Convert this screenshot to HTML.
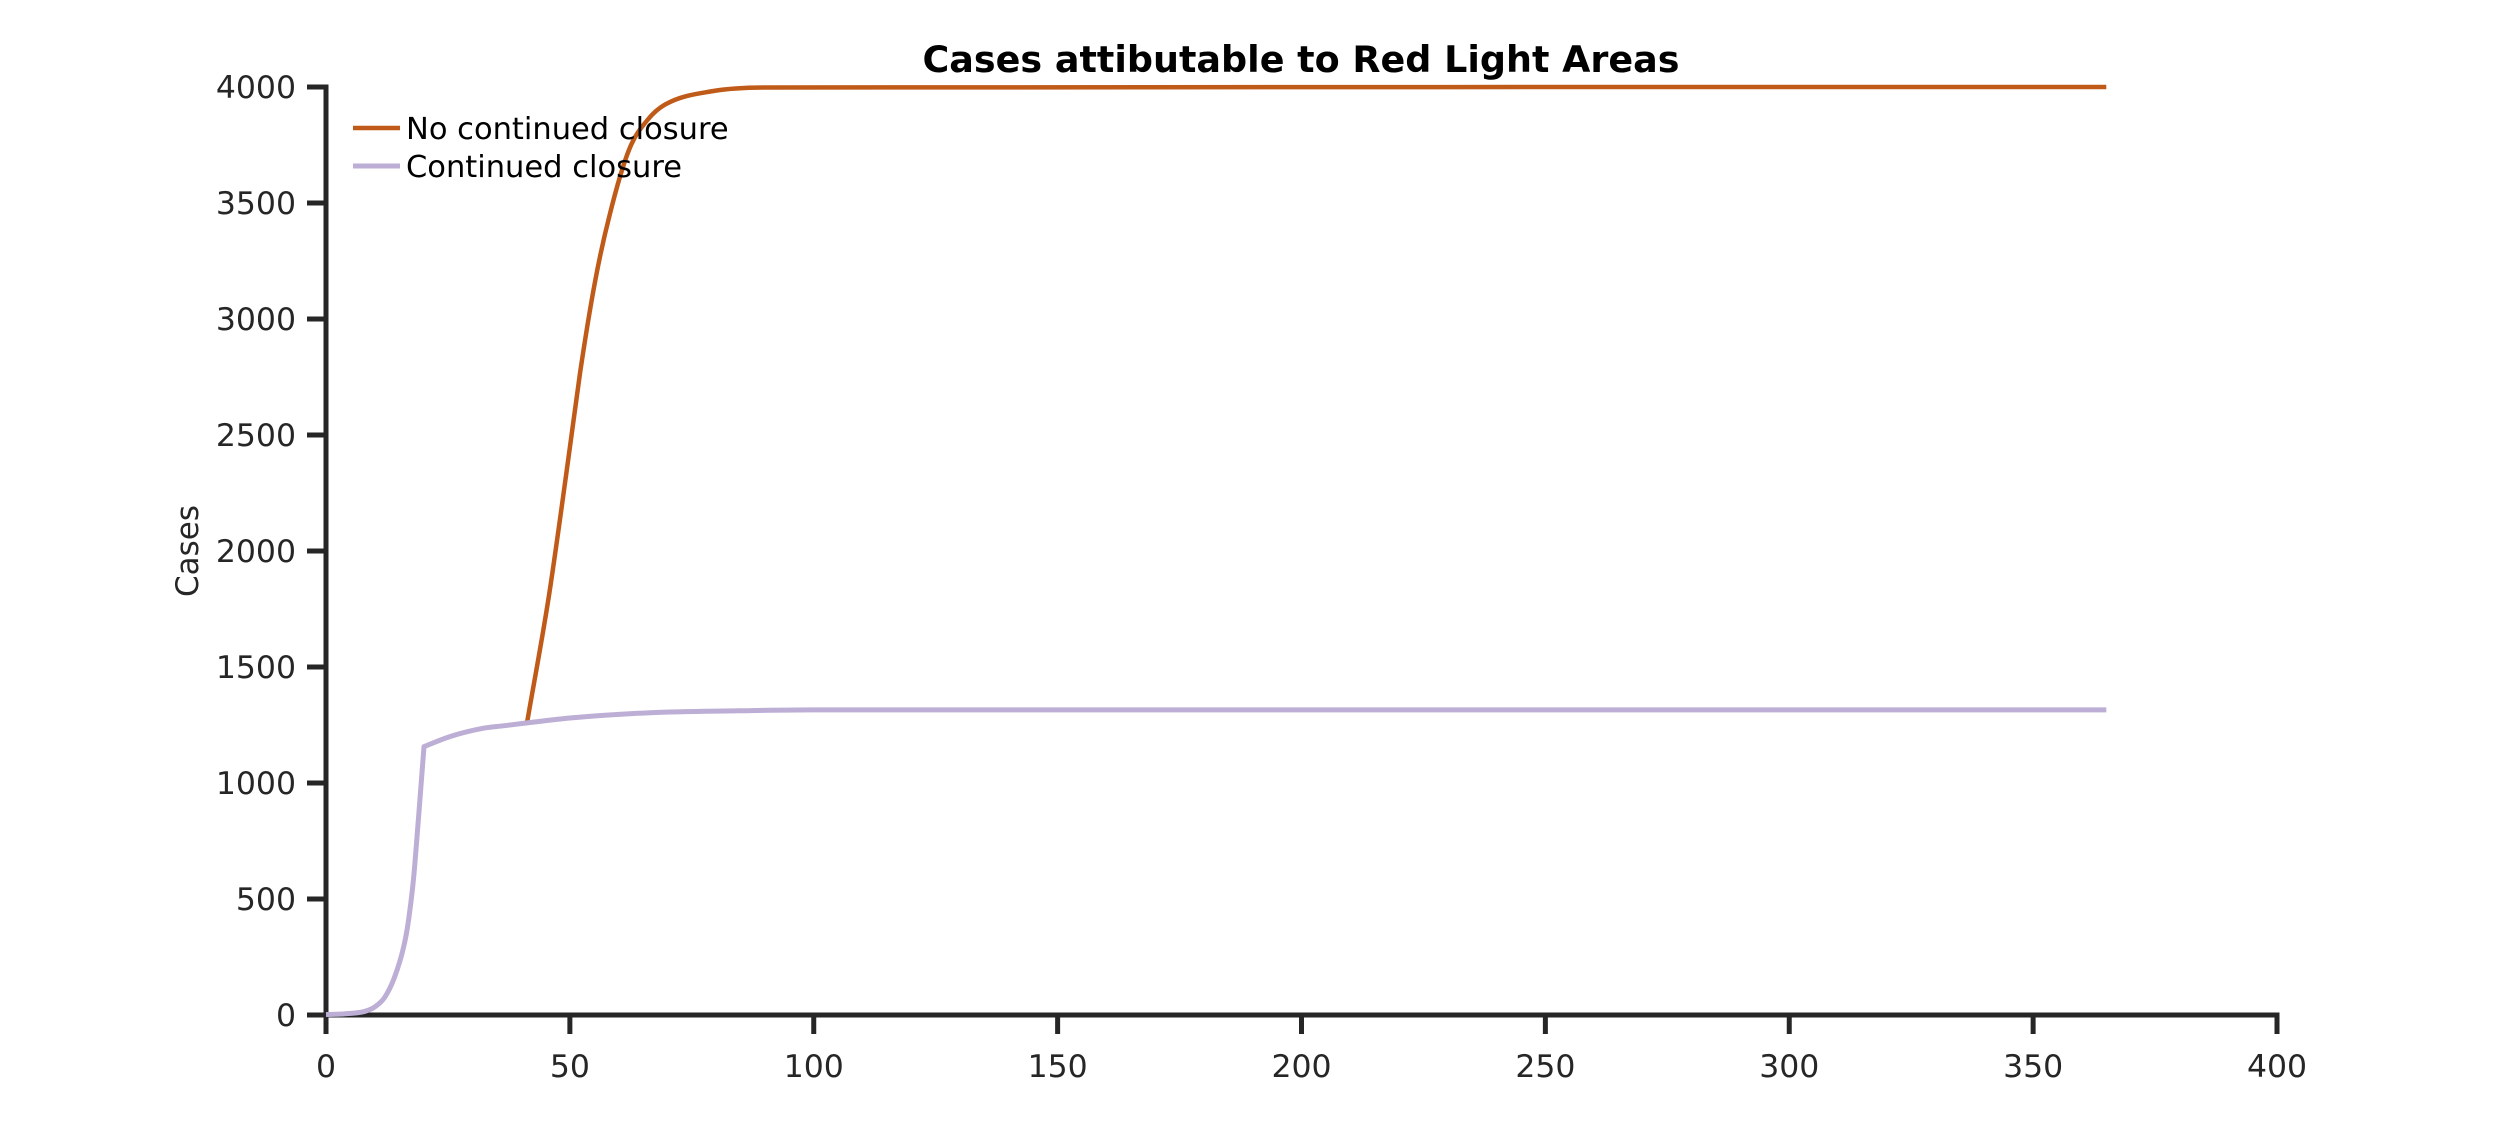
<!DOCTYPE html>
<html><head><meta charset="utf-8"><style>
html,body{margin:0;padding:0;background:#fff;}
svg{display:block;font-family:"DejaVu Sans","Liberation Sans",sans-serif;}
</style></head><body>
<svg id="chart" width="2516" height="1141" viewBox="0 0 2516 1141">
<text x="1301" y="72" text-anchor="middle" font-size="36.5" font-weight="bold" fill="#000">Cases attibutable to Red Light Areas</text>
<text transform="translate(198,551) rotate(-90)" text-anchor="middle" font-size="31" fill="#262626">Cases</text>
<g id="axes"></g>
<g id="series"></g>
<g>
<g>
<line x1="353" y1="128" x2="400" y2="128" stroke="#c05a19" stroke-width="4.5"/>
<text x="406" y="139" font-size="30.5" fill="#000">No continued closure</text></g>
<g>
<line x1="353" y1="166" x2="400" y2="166" stroke="#bcaed5" stroke-width="5"/>
<text x="406" y="177" font-size="30.5" fill="#000">Continued closure</text></g>
</g>
</svg>
<script>
const xTicks=[0,50,100,150,200,250,300,350,400];
const yTicks=[0,500,1000,1500,2000,2500,3000,3500,4000];
const closedDays=[0,4,8,10,12,14,16,17,18,19,20.1,25.4,32.3,35.7,41.2,50,66.4,84.6,100,365];
const closedCases=[2,5,16,35,75,160,300,420,600,860,1157,1200,1236,1245,1259,1280,1303,1311,1315,1315];
const openDays=[41.2,45.7,49.6,52.1,55.1,58.1,62.2,66,69.5,79.6,90.6,365];
const openCases=[1259,1806,2384,2769,3155,3444,3733,3860,3924,3983,3998,4000];
const X0=326,X1=2277,Y0=1015,Y1=87;
const sx=v=>X0+(v-0)/(400-0)*(X1-X0);
const sy=v=>Y0-(v-0)/(4000-0)*(Y0-Y1);
const NS="http://www.w3.org/2000/svg";
const axes=document.getElementById('axes');
const series=document.getElementById('series');
function mk(tag,attrs,parent){const e=document.createElementNS(NS,tag);for(const k in attrs)e.setAttribute(k,attrs[k]);parent.appendChild(e);return e;}
const xa=mk('line',{x1:X0,y1:Y0,x2:X1,y2:Y0,stroke:'#262626','stroke-width':5,'stroke-linecap':'square'},axes);


const ya=mk('line',{x1:X0,y1:Y0,x2:X0,y2:Y1,stroke:'#262626','stroke-width':5,'stroke-linecap':'square'},axes);


xTicks.forEach(t=>{
  const x=sx(t);
  const tk=mk('line',{x1:x,y1:Y0,x2:x,y2:Y0+19,stroke:'#262626','stroke-width':5},axes);
  
  
  const lb=mk('text',{x:x,y:Y0+62,'text-anchor':'middle','font-size':31.5,fill:'#262626'},axes);
  lb.textContent=t;
  
  
});
yTicks.forEach(t=>{
  const y=sy(t);
  const tk=mk('line',{x1:X0-19,y1:y,x2:X0,y2:y,stroke:'#262626','stroke-width':5},axes);
  
  
  const lb=mk('text',{x:X0-30,y:y+11,'text-anchor':'end','font-size':31.5,fill:'#262626'},axes);
  lb.textContent=t;
  
  
});
function mono(xs,ys,first){
  const X=xs.map(sx),Y=ys.map(sy),n=X.length;
  if(n<2)return '';
  const d=[],m=new Array(n);
  for(let i=0;i<n-1;i++)d.push((Y[i+1]-Y[i])/(X[i+1]-X[i]));
  m[0]=d[0];m[n-1]=d[n-2];
  for(let i=1;i<n-1;i++){m[i]=(d[i-1]*d[i]<=0)?0:(d[i-1]+d[i])/2;}
  for(let i=0;i<n-1;i++){
    if(d[i]===0){m[i]=0;m[i+1]=0;continue;}
    const a=m[i]/d[i],b=m[i+1]/d[i],s=a*a+b*b;
    if(s>9){const t=3/Math.sqrt(s);m[i]=t*a*d[i];m[i+1]=t*b*d[i];}
  }
  let p=(first?'M':'L')+X[0].toFixed(1)+','+Y[0].toFixed(1);
  for(let i=0;i<n-1;i++){
    const h=(X[i+1]-X[i])/3;
    p+=' C'+(X[i]+h).toFixed(1)+','+(Y[i]+m[i]*h).toFixed(1)+' '+(X[i+1]-h).toFixed(1)+','+(Y[i+1]-m[i+1]*h).toFixed(1)+' '+X[i+1].toFixed(1)+','+Y[i+1].toFixed(1);
  }
  return p;
}
function kinkedPath(xs,ys,kinkDay){
  const k=xs.findIndex(v=>v>=kinkDay);
  if(k<=0)return mono(xs,ys,true);
  return mono(xs.slice(0,k+1),ys.slice(0,k+1),true)+' '+mono(xs.slice(k),ys.slice(k),false);
}
const po=mk('path',{d:mono(openDays,openCases,true),fill:'none',stroke:'#c05a19','stroke-width':4.5,'stroke-linejoin':'round'},series);


const pc=mk('path',{d:kinkedPath(closedDays,closedCases,20),fill:'none',stroke:'#bcaed5','stroke-width':5,'stroke-linejoin':'round'},series);


</script>
</body></html>
